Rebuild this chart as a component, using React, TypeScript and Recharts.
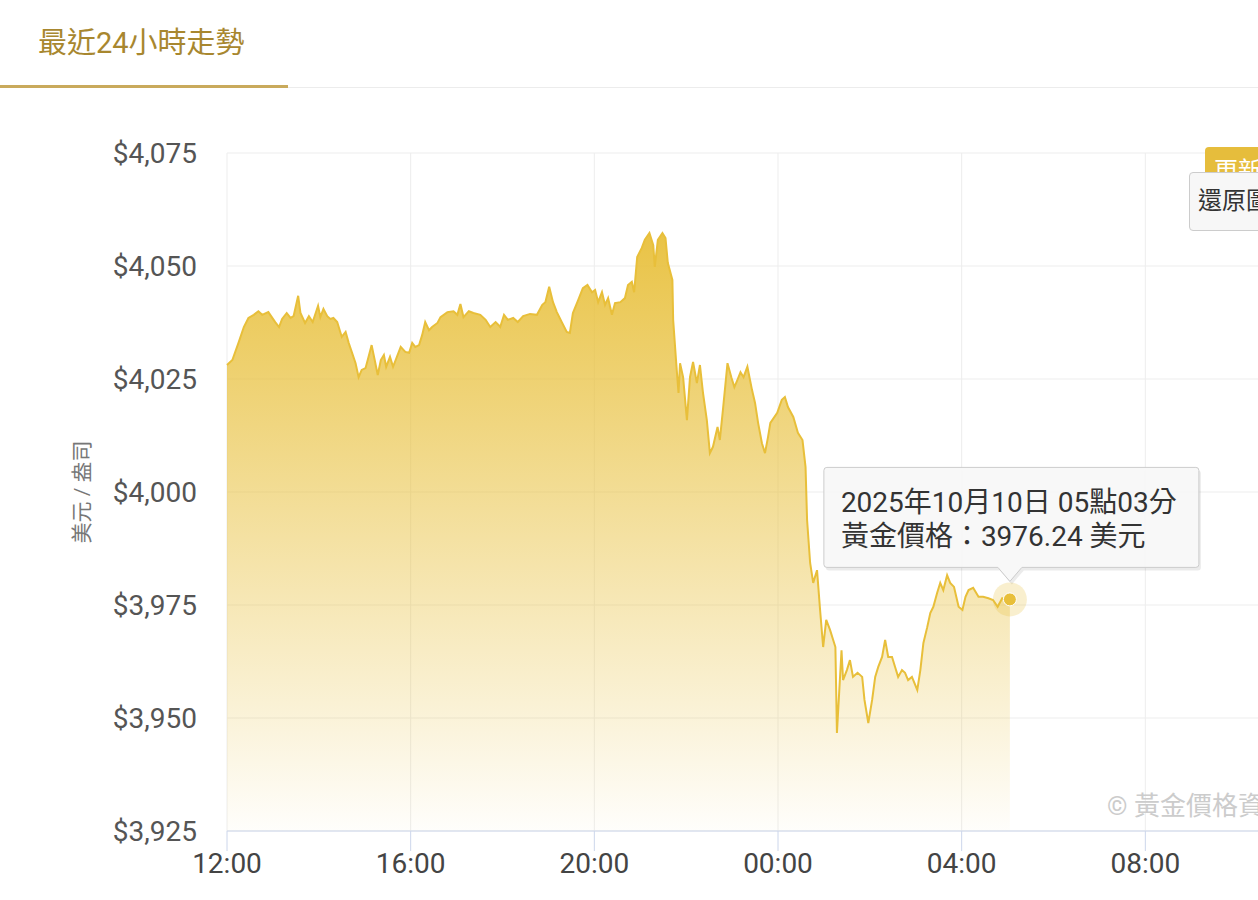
import { Area, AreaChart, CartesianGrid, ReferenceDot, XAxis, YAxis } from "recharts"

const GOLD = "#e8bf3a"
const FONT = "Roboto, 'Noto Sans CJK TC', sans-serif"

// minutes after 12:00
const MINUTES = [
  0, 7, 15, 22, 28, 35, 41, 46, 54, 63,
  68, 72, 78, 83, 87, 93, 96, 102, 107, 112,
  119, 122, 126, 131, 135, 139, 144, 150, 155, 159,
  163, 168, 172, 176, 181, 185, 189, 193, 197, 201,
  205, 208, 213, 217, 222, 227, 233, 238, 242, 246,
  251, 255, 259, 264, 268, 275, 279, 288, 296, 301,
  305, 309, 316, 322, 331, 338, 344, 351, 355,
  357, 362, 367, 374, 380, 387, 396, 405, 412, 416,
  421, 426, 431, 438, 444, 448, 452, 459, 465, 471,
  477, 481, 485, 490, 494, 498, 503, 507, 514, 520,
  524, 529, 532, 536, 542, 546, 552, 557, 559, 563,
  569, 573, 576, 582, 583, 587, 590, 592, 596, 601,
  605, 609, 614, 618, 622, 627, 631, 635, 641, 644,
  648, 654, 659, 663, 667, 671, 675, 680, 686, 690,
  694, 699, 703, 707,
  710, 719, 725, 729, 733, 740, 746, 752, 756, 758,
  762, 766, 771, 775, 779, 783, 788, 795, 797, 803,
  805, 810, 814, 818, 824, 830, 833, 838, 843, 847,
  851, 856, 860, 864, 869, 873, 877, 882, 886, 890,
  895, 902, 906, 910, 915, 919, 923, 928, 932, 936,
  941, 945, 950, 956, 961, 965, 969, 975, 982, 988,
  995, 1001, 1007, 1013, 1020, 1023,
]

// USD per ounce
const PRICES = [
  4028.1, 4029.2, 4033.0, 4036.5, 4038.5, 4039.2, 4040.0, 4039.2, 4039.8, 4037.6,
  4036.5, 4038.3, 4039.6, 4038.5, 4038.9, 4043.4, 4039.6, 4037.4, 4038.9, 4037.6,
  4041.2, 4038.7, 4040.5, 4038.9, 4038.3, 4038.5, 4037.6, 4034.3, 4035.4, 4033.0,
  4031.0, 4028.5, 4025.4, 4027.0, 4027.4, 4029.9, 4032.5, 4029.2, 4025.9, 4029.2,
  4030.3, 4027.7, 4029.9, 4027.7, 4029.9, 4032.1, 4031.0, 4030.8, 4033.0, 4032.1,
  4032.5, 4034.7, 4037.6, 4035.8, 4036.5, 4037.4, 4038.7, 4039.8, 4040.0, 4039.2,
  4041.6, 4038.7, 4040.0, 4039.6, 4039.2, 4038.1, 4036.5, 4037.6, 4036.9,
  4036.5, 4039.2, 4038.1, 4038.5, 4037.6, 4038.9, 4039.4, 4039.2, 4041.4, 4042.0,
  4045.4, 4042.0, 4039.8, 4037.4, 4035.4, 4035.2, 4039.6, 4042.5, 4045.1, 4045.8,
  4044.2, 4044.7, 4042.0, 4044.2, 4041.4, 4042.9, 4039.2, 4041.8, 4042.0, 4042.9,
  4045.8, 4046.5, 4044.2, 4052.0, 4054.0, 4055.8, 4057.3, 4054.6, 4049.8, 4055.8,
  4057.3, 4056.2, 4050.7, 4046.9, 4038.1, 4028.5, 4021.9, 4028.5, 4025.4, 4015.9,
  4025.4, 4028.8, 4024.1, 4028.1, 4021.9, 4015.9, 4008.6, 4010.0, 4014.4, 4011.5,
  4018.1, 4028.5, 4025.4, 4023.2, 4024.8, 4026.5, 4025.4, 4027.7, 4022.6, 4019.7,
  4015.3, 4010.8, 4008.6, 4012.2,
  4015.3, 4017.5, 4020.4, 4021.0, 4018.8, 4016.6, 4013.1, 4011.5, 4005.5, 3993.8,
  3984.3, 3979.9, 3982.7, 3973.9, 3965.7, 3971.7, 3969.5, 3965.7, 3946.7, 3965.0,
  3958.4, 3960.6, 3962.8, 3959.1, 3960.0, 3959.1, 3954.0, 3948.9, 3954.0, 3959.1,
  3961.3, 3963.5, 3967.3, 3963.5, 3963.5, 3961.3, 3959.1, 3960.6, 3960.0, 3958.4,
  3959.1, 3956.2, 3960.6, 3966.6, 3970.1, 3973.2, 3974.6, 3977.7, 3979.9, 3978.3,
  3981.6, 3979.9, 3979.0, 3974.6, 3973.9, 3976.8, 3978.3, 3978.8, 3976.8, 3976.8,
  3976.5, 3976.1, 3974.6, 3976.5, 3976.1, 3976.24,
]

const X_TICKS = [0, 240, 480, 720, 960, 1200]
const Y_TICKS = [3925, 3950, 3975, 4000, 4025, 4050, 4075]

const TOOLTIP_TIME = "2025年10月10日 05點03分"
const TOOLTIP_PRICE = "黃金價格：3976.24 美元"

const data = MINUTES.map((t, i) => ({ t, price: PRICES[i] }))
const LAST_T = MINUTES[MINUTES.length - 1]
const LAST_P = PRICES[PRICES.length - 1]

const fmtTime = (m: number) => {
  const h = (12 + Math.floor(m / 60)) % 24
  return `${String(h).padStart(2, "0")}:00`
}

const fmtPrice = (v: number) => `$${v.toLocaleString("en-US")}`

function YTitle({ viewBox }: any) {
  if (!viewBox) return null
  const x = viewBox.x + 82
  const y = viewBox.y + viewBox.height / 2
  return (
    <text
      x={x}
      y={y}
      transform={`rotate(-90 ${x} ${y})`}
      textAnchor="middle"
      dominantBaseline="central"
      fontSize={21}
      fill="#777"
    >
      美元 / 盎司
    </text>
  )
}

// hover marker + tooltip box pinned on the latest point
function LastPoint({ cx, cy }: { cx?: number; cy?: number }) {
  if (cx == null || cy == null) return null
  const l = cx - 186
  const r = cx + 189
  const t = cy - 132
  const b = cy - 32
  const box =
    `M${l + 3},${t} H${r - 3} Q${r},${t} ${r},${t + 3} V${b - 3} Q${r},${b} ${r - 3},${b} ` +
    `H${cx + 12} L${cx},${cy - 18} L${cx - 12},${b} H${l + 3} Q${l},${b} ${l},${b - 3} V${t + 3} Q${l},${t} ${l + 3},${t} Z`
  return (
    <g>
      <circle cx={cx} cy={cy} r={17} fill={GOLD} fillOpacity={0.25} />
      <circle cx={cx} cy={cy} r={6.5} fill={GOLD} stroke="#fff" strokeWidth={1} />
      <path d={box} transform="translate(2,3)" fill="#000" fillOpacity={0.08} />
      <path d={box} fill="#f8f8f8" fillOpacity={0.96} stroke="#cccccc" strokeWidth={1} />
      <text x={cx - 169} y={cy - 87} fontSize={28} fill="#333">
        {TOOLTIP_TIME}
      </text>
      <text x={cx - 169} y={cy - 53} fontSize={28} fill="#333">
        {TOOLTIP_PRICE}
      </text>
    </g>
  )
}

export default function App() {
  return (
    <div
      style={{
        position: "fixed",
        inset: 0,
        overflow: "hidden",
        background: "#fff",
        fontFamily: FONT,
      }}
    >
      <div style={{ position: "absolute", left: 38, top: 19, fontSize: 29, color: "#a8872f" }}>
        最近24小時走勢
      </div>
      <div style={{ position: "absolute", left: 0, top: 85, width: 288, height: 3, background: "#c9aa5c" }} />
      <div style={{ position: "absolute", left: 288, top: 87, right: 0, height: 1, background: "#ececec" }} />

      <div style={{ position: "absolute", left: 0, top: 0 }}>
        <AreaChart
          width={1329}
          height={891}
          data={data}
          margin={{ top: 153, right: 0, bottom: 0, left: 0 }}
        >
          <defs>
            <linearGradient id="goldFill" x1="0" y1="0" x2="0" y2="1">
              <stop offset="0%" stopColor="#e8c03c" stopOpacity={0.95} />
              <stop offset="100%" stopColor="#e8c03c" stopOpacity={0.02} />
            </linearGradient>
          </defs>
          <CartesianGrid stroke="#ededed" />
          <XAxis
            dataKey="t"
            type="number"
            domain={[0, 1440]}
            ticks={X_TICKS}
            tickFormatter={fmtTime}
            height={60}
            stroke="#ccd6eb"
            tickSize={20}
            tickMargin={2}
            tick={{ fontSize: 28, fill: "#444" }}
            interval={0}
          />
          <YAxis
            domain={[3925, 4075]}
            ticks={Y_TICKS}
            tickFormatter={fmtPrice}
            width={227}
            axisLine={false}
            tickLine={false}
            tickSize={0}
            tickMargin={30}
            tick={{ fontSize: 28, fill: "#555" }}
            label={{ value: "美元 / 盎司", content: YTitle }}
          />
          <Area
            type="linear"
            dataKey="price"
            stroke={GOLD}
            strokeWidth={2}
            fill="url(#goldFill)"
            fillOpacity={1}
            dot={false}
            activeDot={false}
            isAnimationActive={false}
          />
          <ReferenceDot x={LAST_T} y={LAST_P} shape={LastPoint} />
        </AreaChart>
      </div>

      <div
        style={{
          position: "absolute",
          left: 1107,
          top: 785,
          fontSize: 26,
          color: "#cccccc",
          whiteSpace: "nowrap",
        }}
      >
        © 黃金價格資訊
      </div>

      <div
        style={{
          position: "absolute",
          left: 1205,
          top: 147,
          width: 90,
          height: 42,
          background: "#e6bd3c",
          borderRadius: 4,
          color: "#fff",
          fontSize: 24,
          paddingLeft: 9,
          paddingTop: 4,
          boxSizing: "border-box",
          whiteSpace: "nowrap",
        }}
      >
        更新資料
      </div>
      <div
        style={{
          position: "absolute",
          left: 1189,
          top: 172,
          width: 130,
          height: 59,
          background: "#f7f7f7",
          border: "1px solid #cccccc",
          borderRadius: 4,
          color: "#333",
          fontSize: 24,
          lineHeight: "57px",
          paddingLeft: 8,
          boxSizing: "border-box",
          whiteSpace: "nowrap",
        }}
      >
        還原圖表
      </div>
    </div>
  )
}
